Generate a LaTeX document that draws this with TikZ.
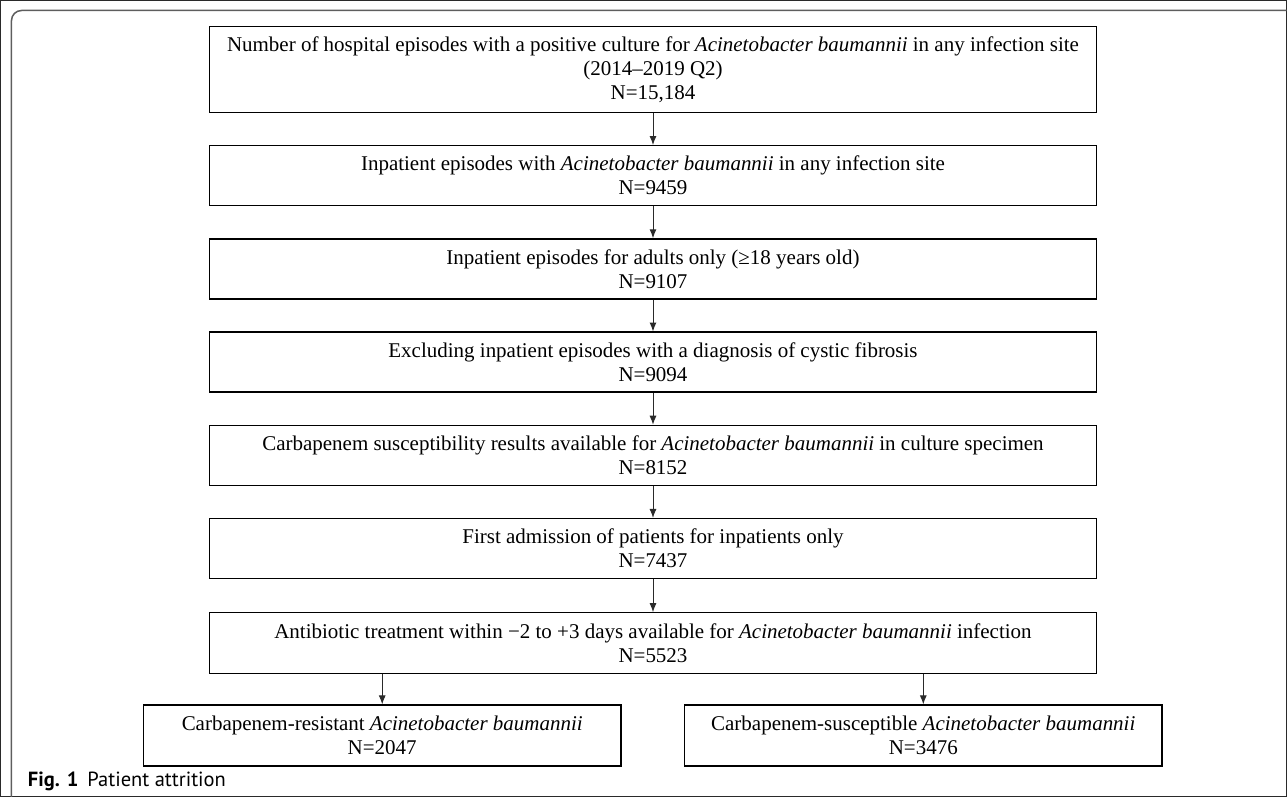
\documentclass[tikz,border=0pt]{standalone}
\usepackage{fontspec}
\setmainfont{Liberation Serif}
\newfontfamily\capfont{PT Sans}
\usepackage{tikz}
\usetikzlibrary{arrows.meta,positioning}

\definecolor{framegray}{HTML}{5E5E5E}
\definecolor{linegray}{HTML}{2A2A2A}

\begin{document}
\begin{tikzpicture}[x=1pt, y=1pt, ->, >={Latex[length=9pt,width=7pt]},
                    line width=1pt, node distance=32pt]
    \tikzstyle{box}=[draw=black, line width=1.3pt, align=center,
                     minimum width=888pt, minimum height=60pt, inner sep=0pt,
                     font=\fontsize{21}{24}\selectfont, text=black]
    \tikzstyle{leaf}=[box, minimum width=478pt, minimum height=61pt]
    \tikzstyle{every path}=[draw=linegray]
    \useasboundingbox (0,0) rectangle (1287,-797);

    \draw[-, framegray, line width=1.5pt, rounded corners=10pt]
        (11,-797) -- (11,-10) -- (1287,-10);

    \node[box, minimum height=86pt] (b1) at (653,-69)
        {Number of hospital episodes with a positive culture for \textit{Acinetobacter baumannii} in any infection site\\(2014–2019 Q2)\\N=15,184};
    \node[box] (b2) [below=of b1]
        {Inpatient episodes with \textit{Acinetobacter baumannii} in any infection site\\N=9459};
    \node[box] (b3) [below=of b2]
        {Inpatient episodes for adults only (≥18 years old)\\N=9107};
    \node[box] (b4) [below=of b3]
        {Excluding inpatient episodes with a diagnosis of cystic fibrosis\\N=9094};
    \node[box] (b5) [below=of b4]
        {Carbapenem susceptibility results available for \textit{Acinetobacter baumannii} in culture specimen\\N=8152};
    \node[box] (b6) [below=of b5]
        {First admission of patients for inpatients only\\N=7437};
    \node[box, minimum height=61pt] (b7) [below=33pt of b6]
        {Antibiotic treatment within −2 to +3 days available for \textit{Acinetobacter baumannii} infection\\N=5523};
    \node[leaf] (cr) [below=30pt of b7, xshift=-271pt]
        {Carbapenem-resistant \textit{Acinetobacter baumannii}\\N=2047};
    \node[leaf] (cs) [below=30pt of b7, xshift=270.5pt]
        {Carbapenem-susceptible \textit{Acinetobacter baumannii}\\N=3476};

    \draw (b1) -- (b2);
    \draw (b2) -- (b3);
    \draw (b3) -- (b4);
    \draw (b4) -- (b5);
    \draw (b5) -- (b6);
    \draw (b6) -- (b7);
    \draw (b7.south -| cr.north) -- (cr.north);
    \draw (b7.south -| cs.north) -- (cs.north);

    \node[anchor=base west, inner sep=0pt] (cap) at (27,-787)
        {\capfont\fontsize{20.5}{24}\selectfont\textbf{Fig. 1}\hspace{9pt}Patient attrition};
\end{tikzpicture}
\end{document}
